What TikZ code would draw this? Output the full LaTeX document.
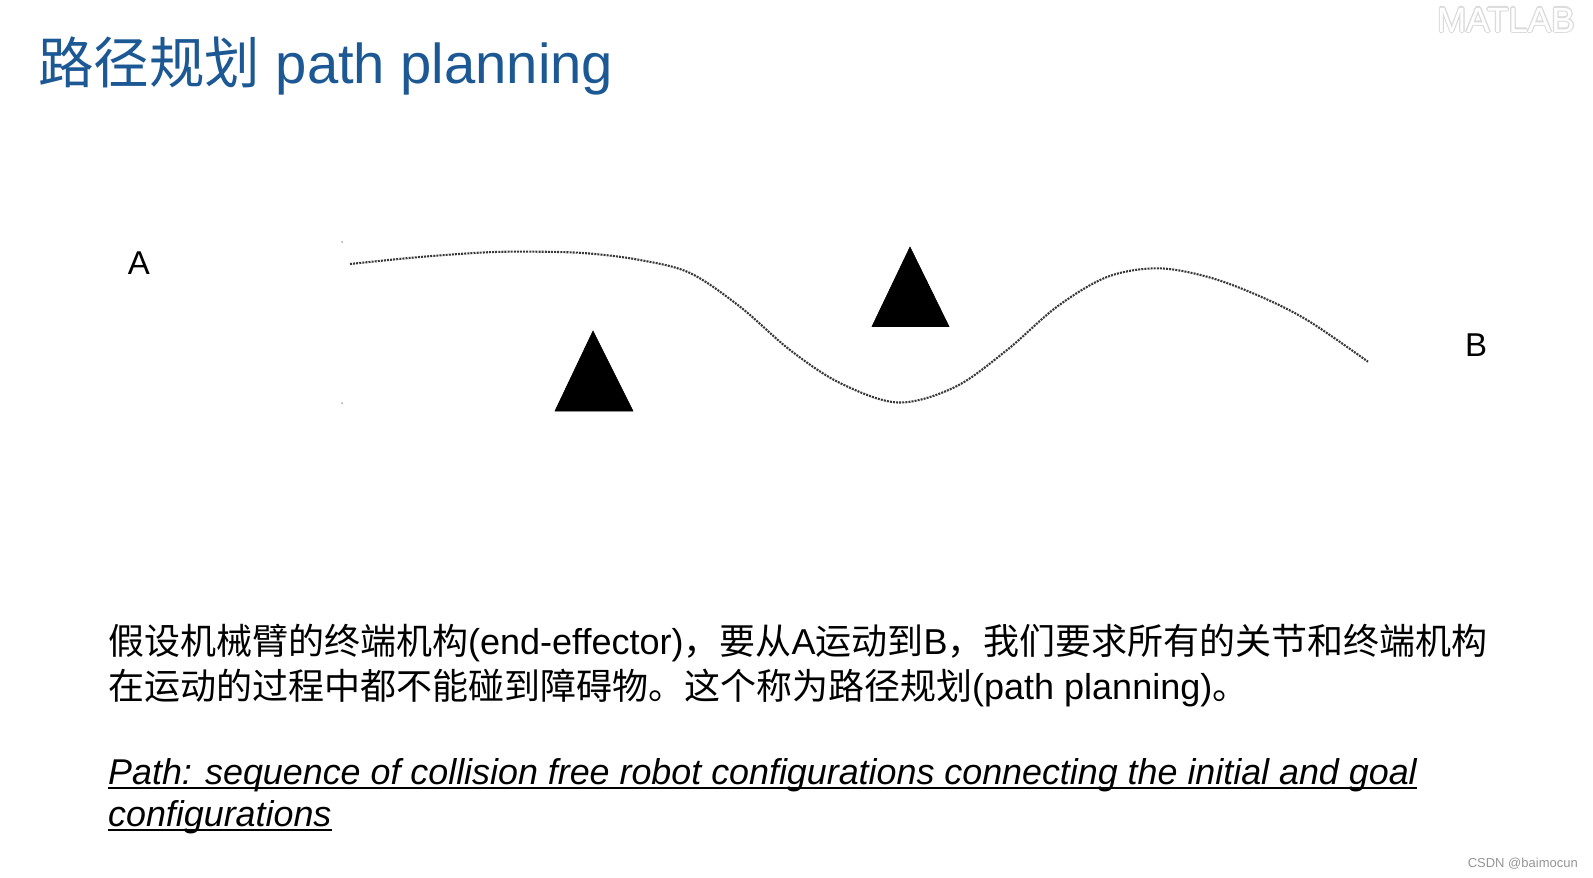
\documentclass[tikz,border=0pt]{standalone}
\usepackage{fontspec}
\setmainfont{Liberation Sans}
\newfontfamily\cjk{Noto Sans CJK SC}
\definecolor{titleblue}{RGB}{28,88,148}
\definecolor{wmgray}{RGB}{150,150,150}
\begin{document}
\begin{tikzpicture}[x=1pt,y=-1pt,
  lbl/.style={inner sep=0pt, font=\fontsize{33}{38}\selectfont},
  obstacle/.style={fill=black, draw=black, line width=0.6pt, line join=miter},
  pathline/.style={line width=2.1pt, black!78, dash pattern=on 2pt off 1.1pt},
  body/.style={inner sep=0pt, anchor=base west, font=\fontsize{36}{44}\selectfont},
  eng/.style={inner sep=0pt, anchor=base west, font=\fontsize{35.85}{44}\selectfont\itshape},
  uline/.style={line width=1.7pt, black},
  wmtext/.style={anchor=base west, inner sep=0pt, font=\fontsize{35}{40}\selectfont},
  speck/.style={fill=black!35, draw=none}]
\useasboundingbox (0,0) rectangle (1593,878);
\fill[white] (0,0) rectangle (1593,878);
% watermark
\foreach \dx/\dy in {1.2/0,-1.2/0,0/1.2,0/-1.2,0.9/0.9,-0.9/0.9,0.9/-0.9,-0.9/-0.9}
  \node[wmtext, text=black!14] (wmo) at (1437+\dx,32+\dy) {MATLAB};
\node[wmtext, text=white] (wm) at (1437,32) {MATLAB};
% title
\node[anchor=base west, inner sep=0pt, text=titleblue, font=\fontsize{56.2}{60}\selectfont] (title) at (38,83) {{\cjk\fontsize{55.5}{60}\selectfont 路径规划} path planning};
% labels
\node[lbl] (A) at (139,263) {A};
\node[lbl] (B) at (1476,345) {B};
% specks
\fill[speck] (342,242) circle (1pt);
\fill[speck] (342,403) circle (1pt);
% obstacles
\filldraw[obstacle] (593,331) -- (633,411) -- (555,411) -- cycle;
\filldraw[obstacle] (910,247) -- (949,326.5) -- (872,326.5) -- cycle;
% path
\draw[pathline] plot[smooth, tension=0.55] coordinates {(350,264) (420,257) (487,252.3) (537,251.7) (587,253.3) (640,260) (690,273) (740,306.7) (790,350) (840,383) (898,402.5) (955,387) (1007,350) (1057,306.7) (1107,277) (1157,268.3) (1207,276.7) (1257,295) (1307,320) (1368,361.7)};
% body text
\node[body] (l1) at (108,654) {{\cjk 假设机械臂的终端机构}(end-effector){\cjk ，要从}A{\cjk 运动到}B{\cjk ，我们要求所有的关节和终端机构}};
\node[body] (l2) at (108,699) {{\cjk 在运动的过程中都不能碰到障碍物。这个称为路径规划}(path planning){\cjk 。}};
% definition
\node[eng] (e1) at (108,784) {Path: sequence of collision free robot configurations connecting the initial and goal};
\node[eng] (e2) at (108,826) {configurations};
\draw[uline] ([yshift=-4pt]e1.base west) -- ([yshift=-4pt]e1.base east);
\draw[uline] ([yshift=-4pt]e2.base west) -- ([yshift=-4pt]e2.base east);
% csdn
\node[anchor=base east, inner sep=0pt, text=wmgray, font=\fontsize{13}{15}\selectfont] (csdn) at (1578,867) {CSDN @baimocun};
\end{tikzpicture}
\end{document}
